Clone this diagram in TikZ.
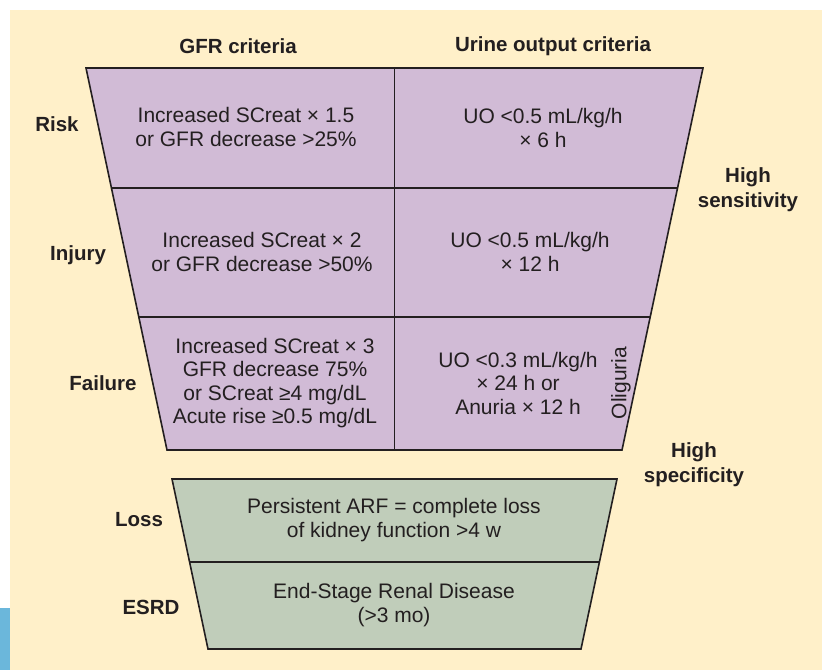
\documentclass[tikz,border=0pt]{standalone}
\usepackage{fontspec}
\setmainfont{Liberation Sans}
\usetikzlibrary{positioning}
\definecolor{RFCream}{RGB}{255,240,201}
\definecolor{RFPurple}{RGB}{209,187,214}
\definecolor{RFGreen}{RGB}{192,205,186}
\definecolor{RFBlue}{RGB}{107,183,219}
\definecolor{RFInk}{RGB}{35,31,32}

\begin{document}
\begin{tikzpicture}[x=1pt, y=-1pt,
      cell/.style={align=center, text=RFInk,
                   font=\fontsize{21}{23.5}\selectfont},
      lbl/.style={align=center, text=RFInk,
                  font=\fontsize{20.5}{25}\selectfont\bfseries},
      rim/.style={draw=RFInk, line width=1.6pt, line join=miter}
    ]
    \useasboundingbox (0,0) rectangle (822,670);
    \fill[white] (0,0) rectangle (822,670);
    \fill[RFCream] (10,10) rectangle (822,670);
    \fill[RFBlue] (0,608) rectangle (10,670);

    % purple funnel
    \draw[rim, fill=RFPurple] (86,68) -- (703,68) -- (622,450) -- (167,450) -- cycle;
    \draw[rim] (111.4,188) -- (677.6,188);
    \draw[rim] (138.8,317) -- (650.2,317);
    \draw[rim] (394.5,68) -- (394.5,450);

    % green funnel
    \draw[rim, fill=RFGreen] (172,479) -- (617,479) -- (581,649) -- (208,649) -- cycle;
    \draw[rim] (189.6,562) -- (599.4,562);

    \node[lbl] (gfrhead) at (238,46) {GFR criteria};
    \node[lbl] (uohead)  at (553,46) {Urine output criteria};

    \node[lbl] (risk)    at (57,124)  {Risk};
    \node[lbl] (injury)  at (78,255)  {Injury};
    \node[lbl] (failure) at (103,383) {Failure};
    \node[lbl] (loss)    at (139,520) {Loss};
    \node[lbl] (esrd)    at (151,607) {ESRD};

    \node[lbl] (sens) at (748,190) {High\\sensitivity};
    \node[lbl] (spec) at (694,465) {High\\specificity};

    \node[cell] (riskgfr) at (246,127)
          {Increased SCreat × 1.5\\or GFR decrease >25\%};
    \node[cell] (riskuo)  at (543,128)
          {UO <0.5 mL/kg/h\\× 6 h};
    \node[cell] (injgfr)  at (262,252)
          {Increased SCreat × 2\\or GFR decrease >50\%};
    \node[cell] (injuo)   at (530,252)
          {UO <0.5 mL/kg/h\\× 12 h};
    \node[cell] (failgfr) at (275,383)
          {Increased SCreat × 3\\GFR decrease 75\%\\or SCreat ≥4 mg/dL\\Acute rise ≥0.5 mg/dL};
    \node[cell] (failuo)  at (518,383)
          {UO <0.3 mL/kg/h\\× 24 h or\\Anuria × 12 h};
    \node[cell, rotate=90] (oliguria) at (621,383) {Oliguria};

    \node[cell] (lossbox) at (394,520)
          {Persistent ARF = complete loss\\of kidney function >4 w};
    \node[cell] (esrdbox) at (394,605)
          {End-Stage Renal Disease\\(>3 mo)};
  \end{tikzpicture}
\end{document}
